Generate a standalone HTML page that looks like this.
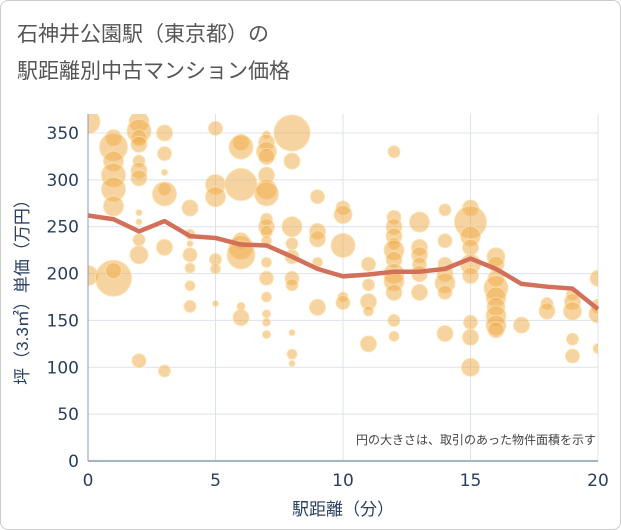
<!DOCTYPE html>
<html><head><meta charset="utf-8">
<style>
body{margin:0;background:#fff;}
#wrap{position:relative;width:619px;height:528px;border:1px solid #ccc;border-radius:8px;overflow:hidden;background:#fff;font-family:"Liberation Sans","Noto Sans CJK JP",sans-serif;}
</style></head><body>
<div id="wrap">
<svg id="chart" width="621" height="530">
<text x="16" y="40" font-size="21" fill="#555" font-family="Liberation Sans, Noto Sans CJK JP, sans-serif">石神井公園駅（東京都）の</text>
<text x="16" y="77" font-size="21" fill="#555" font-family="Liberation Sans, Noto Sans CJK JP, sans-serif">駅距離別中古マンション価格</text>
<g id="grid"></g>
<g id="bubbles" clip-path="url(#clip)"></g>
<g id="line"></g>
<g id="axes"></g>
<defs><clipPath id="clip"><rect x="87" y="113" width="510" height="347"/></clipPath></defs>
<text x="595" y="443" font-size="12" fill="#444" text-anchor="end" font-family="Liberation Sans, Noto Sans CJK JP, sans-serif">円の大きさは、取引のあった物件面積を示す</text>
<text x="342" y="514" font-size="17" fill="#2a3f5f" text-anchor="middle" font-family="Liberation Sans, Noto Sans CJK JP, sans-serif">駅距離（分）</text>
<text transform="translate(27,287) rotate(-90)" font-size="17" fill="#2a3f5f" text-anchor="middle" font-family="Liberation Sans, Noto Sans CJK JP, sans-serif">坪（3.3㎡）単価（万円）</text>
</svg>
</div>
<script>
const xTicks=[0,5,10,15,20];
const yTicks=[0,50,100,150,200,250,300,350];
const lineX=[0,1,2,3,4,5,6,7,8,9,10,11,12,13,14,15,16,17,18,19,20];
const lineY=[262,258,245,256,240,238,231,230,218,205,197,199,202,202,205,216,205,189,186,184,162];
const bubbleX=[0,0,1,1,1,1,1,1,1,1,2,2,2,2,2,2,2,2,2,2,2,2,3,3,3,3,3,3,3,4,4,4,4,4,4,4,5,5,5,5,5,5,6,6,6,6,6,6,6,6,7,7,7,7,7,7,7,7,7,7,7,7,7,7,7,7,7,8,8,8,8,8,8,8,8,8,8,9,9,9,9,9,10,10,10,10,10,11,11,11,11,11,12,12,12,12,12,12,12,12,12,12,12,12,13,13,13,13,13,13,14,14,14,14,14,14,14,15,15,15,15,15,15,15,15,15,16,16,16,16,16,16,16,16,16,17,18,18,19,19,19,19,19,20,20,20,20];
const bubbleY=[362,198,345,335,320,305,290,272,195,203,362,352,345,338,320,310,302,265,255,236,220,107,350,328,308,290,285,228,96,270,242,232,220,206,187,165,355,295,282,215,205,168,340,335,295,235,228,220,165,153,348,340,330,325,305,290,285,258,250,245,235,212,195,175,157,148,135,350,320,250,232,218,195,188,137,114,104,282,245,237,212,164,270,263,230,175,169,210,188,170,160,125,330,260,250,240,232,225,215,200,192,180,150,133,255,228,220,210,200,180,268,235,210,200,190,180,136,270,255,240,228,210,198,148,132,100,218,210,195,185,175,165,155,145,140,145,168,160,178,170,160,130,112,195,165,157,120];
const bubbleR=[12,10,8,14,10,12,12,10,18,8,10,12,8,8,6,8,8,3,3,6,9,7,8,7,3,6,12,8,6,8,5,3,7,5,5,6,7,10,10,6,5,3,8,12,16,8,12,14,4,8,4,8,10,8,8,10,12,6,8,6,5,5,7,5,4,4,4,18,8,10,6,7,7,6,3,5,3,7,8,8,5,8,7,9,12,5,7,7,6,8,5,8,6,7,8,8,6,10,8,10,10,8,6,5,10,8,8,7,8,8,6,7,7,8,10,7,8,8,16,10,8,10,8,7,8,9,9,8,8,12,10,9,10,10,8,8,6,8,6,8,9,6,7,8,7,9,5];
const L=87,R=597,T=113,B=460;
const sx=v=>L+(v-0)/(20-0)*(R-L);
const sy=v=>B-(v/350)*(B-132);
const NS="http://www.w3.org/2000/svg";
function mk(tag,attrs,parent){const e=document.createElementNS(NS,tag);for(const k in attrs)e.setAttribute(k,attrs[k]);parent.appendChild(e);return e;}
const grid=document.getElementById('grid'),axes=document.getElementById('axes');
yTicks.forEach(v=>{
 const g=mk('line',{x1:L,x2:R,y1:sy(v),y2:sy(v),stroke:'#dde3ec','stroke-width':1},grid);
 
 
 const t=mk('text',{x:L-9,y:sy(v)+6,'font-size':17,fill:'#2a3f5f','text-anchor':'end','font-family':'DejaVu Sans, sans-serif'},axes);
 t.textContent=v;
 
 
});
xTicks.forEach(v=>{
 const g=mk('line',{x1:sx(v),x2:sx(v),y1:T,y2:B,stroke:'#dde3ec','stroke-width':1},grid);
 
 
 const t=mk('text',{x:sx(v),y:B+25,'font-size':17,fill:'#2a3f5f','text-anchor':'middle','font-family':'DejaVu Sans, sans-serif'},axes);
 t.textContent=v;
 
 
});
const ax=mk('line',{x1:L,x2:R,y1:B,y2:B,stroke:'#8a9bb0','stroke-width':1.5},axes);


const ay=mk('line',{x1:L,x2:L,y1:T,y2:B,stroke:'#8a9bb0','stroke-width':1},axes);


const bg=document.getElementById('bubbles');
bubbleX.forEach((x,i)=>{
 const c=mk('circle',{cx:sx(x),cy:sy(bubbleY[i]),r:bubbleR[i],fill:'rgba(237,170,70,0.5)',stroke:'rgba(255,225,170,0.8)','stroke-width':1},bg);
 
 
});
const pts=lineX.map((x,i)=>sx(x)+','+sy(lineY[i])).join(' ');
const pl=mk('polyline',{points:pts,fill:'none',stroke:'#d2705a','stroke-width':4.5,'stroke-linejoin':'round'},document.getElementById('line'));


</script>
</body></html>
